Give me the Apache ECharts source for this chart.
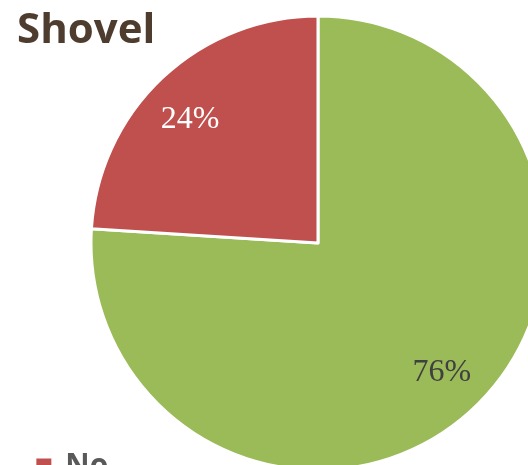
<!DOCTYPE html>
<html>
<head>
<meta charset="utf-8">
<script src="https://cdn.jsdelivr.net/npm/echarts@6/dist/echarts.min.js"></script>
<style>
  html, body { margin: 0; padding: 0; background: #ffffff; }
  #chart { width: 528px; height: 465px; }
</style>
</head>
<body>
<div id="chart"></div>
<script>
// Survey answers for "Shovel"
const categories = ['Yes', 'No'];
const shares = [76, 24];
const sliceColors = ['#9bbb59', '#c0504d'];
const labelColors = ['#404040', '#ffffff'];
// small nudges for the percent labels
const labelOffsets = [[0, -2], [-4, 9]];

const pieData = categories.map((name, i) => ({
  name: name,
  value: shares[i],
  itemStyle: { color: sliceColors[i] }
}));

const center = [318, 243];
const pieRadius = 227;
// Percent labels sit at ~78% of the radius
const labelRingRadius = 356;

const chart = echarts.init(document.getElementById('chart'));
chart.setOption({
  animation: false,
  title: {
    text: 'Shovel',
    left: 12,
    top: 5,
    textStyle: {
      fontFamily: 'Open Sans',
      fontWeight: 'bold',
      fontSize: 42,
      color: '#4e3d2e'
    }
  },
  legend: {
    data: categories,
    orient: 'horizontal',
    left: -86,
    top: 446,
    padding: 5,
    itemWidth: 17,
    itemHeight: 17,
    itemGap: 33,
    icon: 'rect',
    textStyle: {
      fontFamily: 'Open Sans',
      fontWeight: 'bold',
      fontSize: 30,
      lineHeight: 17,
      color: '#595959',
      padding: [0, 0, 0, 8]
    }
  },
  series: [
    {
      type: 'pie',
      center: center,
      radius: [0, pieRadius],
      startAngle: 90,
      clockwise: true,
      silent: true,
      itemStyle: { borderColor: '#ffffff', borderWidth: 3 },
      label: { show: false },
      labelLine: { show: false },
      data: pieData
    },
    {
      // transparent ring used only to place the percent labels
      type: 'pie',
      center: center,
      radius: [0, labelRingRadius],
      startAngle: 90,
      clockwise: true,
      silent: true,
      legendHoverLink: false,
      itemStyle: { color: 'rgba(0,0,0,0)', borderWidth: 0 },
      label: {
        show: true,
        position: 'inside',
        formatter: '{c}%',
        fontFamily: 'Liberation Serif',
        fontSize: 32
      },
      labelLine: { show: false },
      data: categories.map((name, i) => ({
        name: name,
        value: shares[i],
        itemStyle: { color: 'rgba(0,0,0,0)' },
        label: { color: labelColors[i], offset: labelOffsets[i] }
      }))
    }
  ]
});
</script>
</body>
</html>
